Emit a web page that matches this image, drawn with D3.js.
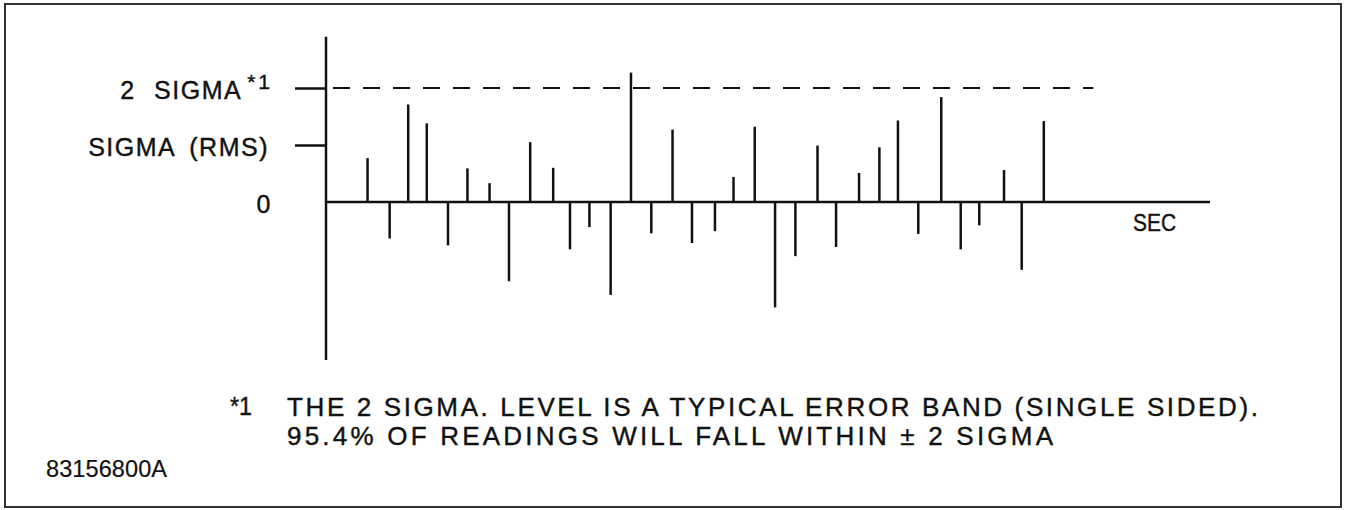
<!DOCTYPE html>
<html>
<head>
<meta charset="utf-8">
<script src="https://cdn.jsdelivr.net/npm/d3@7"></script>
<style>
  html, body { margin: 0; padding: 0; background: #fff; }
  svg { display: block; }
  text { font-family: "Liberation Sans", Arial, sans-serif; fill: #111; stroke: #111; stroke-width: 0.4px; }
</style>
</head>
<body>
<div id="chart"></div>
<script>
// Sample times (arbitrary "SEC" units, 0..100 along the time axis)
const times = [4.7, 7.2, 9.3, 11.4, 13.8, 16.0, 18.5, 20.7, 23.1, 25.7,
               27.6, 29.8, 32.2, 34.5, 36.8, 39.2, 41.4, 44.0, 46.1, 48.5,
               50.8, 53.1, 55.6, 57.7, 60.3, 62.6, 64.7, 67.0, 69.6, 71.8,
               73.9, 76.7, 78.7, 81.2];
// Error readings, in units of sigma (RMS)
const errors = [0.77, -0.64, 1.71, 1.38, -0.76, 0.59, 0.33, -1.39, 1.05, 0.60,
                -0.83, -0.44, -1.63, 2.27, -0.55, 1.27, -0.72, -0.51, 0.44, 1.32,
                -1.85, -0.95, 0.99, -0.79, 0.51, 0.96, 1.43, -0.56, 1.84, -0.83,
                -0.41, 0.56, -1.19, 1.42];
const yTickValues = [2, 1, 0];
const yTickLabels = ["2 SIGMA", "SIGMA (RMS)", "0"];
const footnoteMark = "*1";
const xLabel = "SEC";
const footnoteLines = [
  "THE 2 SIGMA. LEVEL IS A TYPICAL ERROR BAND (SINGLE SIDED).",
  "95.4% OF READINGS WILL FALL WITHIN \u00B1 2 SIGMA"
];
const figureId = "83156800A";
const xDomain = [0, 100];
const yAxisExtent = [-2.77, 2.9];
const twoSigmaLineEnd = 86.8;

const W = 1346, H = 510;
const svg = d3.select("#chart").append("svg").attr("width", W).attr("height", H);

// Frame
svg.append("rect").attr("x", 5).attr("y", 4).attr("width", 1336).attr("height", 503)
  .attr("fill", "none").attr("stroke", "#333").attr("stroke-width", 2);

const x = d3.scaleLinear().domain(xDomain).range([326, 1210]);
const y = d3.scaleLinear().domain([0, 1]).range([202, 145]);

const ink = "#111";

// Y axis
const yAxis = d3.axisLeft(y)
  .tickValues(yTickValues)
  .tickSizeInner(31)
  .tickSizeOuter(0)
  .tickPadding(26)
  .tickFormat((d, i) => yTickLabels[i]);
const gy = svg.append("g").attr("transform", `translate(${x(0)},0)`).call(yAxis);
gy.select(".domain").remove();
gy.selectAll(".tick line").attr("stroke", ink).attr("stroke-width", 2.5)
  .attr("display", d => d === 0 ? "none" : null);
gy.selectAll(".tick text")
  .attr("font-size", 25).attr("letter-spacing", 1.5).attr("word-spacing", 6)
  .attr("fill", ink).style("font-family", "'Liberation Sans', Arial, sans-serif")
  .attr("dy", "0.42em");
gy.selectAll(".tick").filter(d => d === 2).select("text")
  .attr("x", -53).attr("dy", "0.4em").attr("word-spacing", 10)
  .call(t => t.append("tspan").attr("dx", 5).attr("dy", -10).attr("font-size", 21)
    .attr("letter-spacing", 3).text(footnoteMark));
gy.selectAll(".tick").filter(d => d === 0).select("text")
  .attr("x", -54).attr("dy", "0.4em");

svg.append("line")
  .attr("x1", x(0)).attr("x2", x(0))
  .attr("y1", y(yAxisExtent[1])).attr("y2", y(yAxisExtent[0]))
  .attr("stroke", ink).attr("stroke-width", 2.5);

// X axis (zero line)
svg.append("line")
  .attr("x1", x(xDomain[0])).attr("x2", x(xDomain[1]))
  .attr("y1", y(0)).attr("y2", y(0))
  .attr("stroke", ink).attr("stroke-width", 2.5);

// 2 sigma dashed level
svg.append("line")
  .attr("x1", x(0)).attr("x2", x(twoSigmaLineEnd))
  .attr("y1", y(2)).attr("y2", y(2))
  .attr("stroke", ink).attr("stroke-width", 2)
  .attr("stroke-dasharray", "17,13").attr("stroke-dashoffset", 23);

// Spikes
const data = times.map((t, i) => ({ t, v: errors[i] }));
svg.append("g").selectAll("line").data(data).join("line")
  .attr("x1", d => x(d.t)).attr("x2", d => x(d.t))
  .attr("y1", y(0)).attr("y2", d => y(d.v))
  .attr("stroke", ink).attr("stroke-width", 2.5);

// SEC label
svg.append("text").attr("x", 1133).attr("y", 231)
  .attr("font-size", 23).attr("textLength", 43).attr("lengthAdjust", "spacingAndGlyphs")
  .text(xLabel);

// Footnote
svg.append("text").attr("x", 230).attr("y", 415).attr("font-size", 25)
  .attr("textLength", 22).attr("lengthAdjust", "spacingAndGlyphs")
  .text(footnoteMark);
const widths = [971, 766];
footnoteLines.forEach((line, i) => {
  svg.append("text").attr("x", 287).attr("y", 416 + i * 29)
    .attr("font-size", 26)
    .attr("textLength", widths[i]).attr("lengthAdjust", "spacing")
    .text(line);
});

// Figure id
svg.append("text").attr("x", 46).attr("y", 477)
  .attr("font-size", 23.5).attr("textLength", 121).attr("lengthAdjust", "spacing")
  .style("stroke-width", "0.2px")
  .text(figureId);
</script>
</body>
</html>
